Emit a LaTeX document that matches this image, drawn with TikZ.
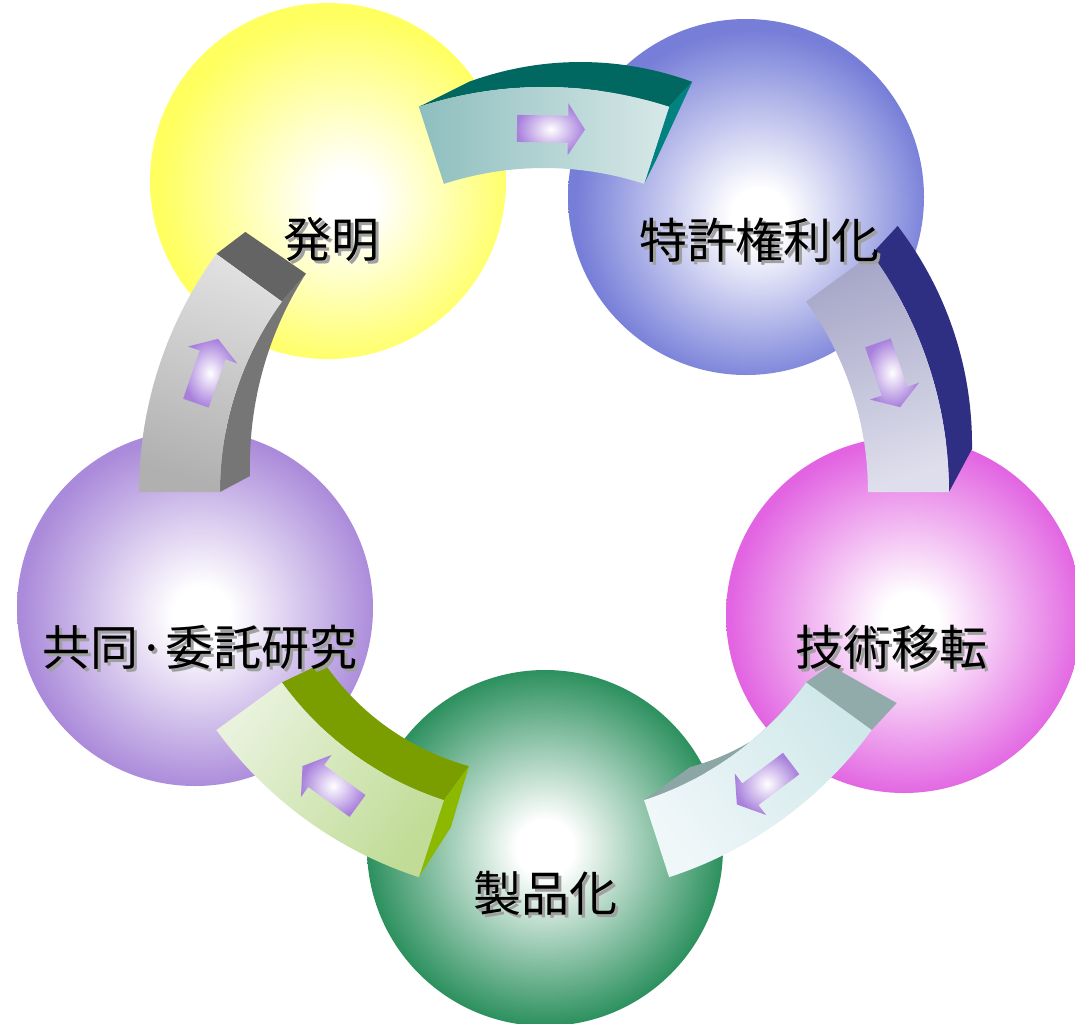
\documentclass[tikz,border=0pt]{standalone}
\usepackage{fontspec}
\newfontfamily\jp{Noto Sans CJK JP}
% sphere colours
\definecolor{cY}{RGB}{255,255,96}
\definecolor{cB}{RGB}{118,126,216}
\definecolor{cP}{RGB}{226,100,226}
\definecolor{cG}{RGB}{44,144,94}
\definecolor{cV}{RGB}{170,138,218}
% arrow colours
\definecolor{a1s}{RGB}{142,190,190}
\definecolor{a1e}{RGB}{216,232,232}
\definecolor{a1top}{RGB}{0,104,97}
\definecolor{a1end}{RGB}{0,130,128}
\definecolor{a2s}{RGB}{166,166,200}
\definecolor{a2e}{RGB}{222,222,236}
\definecolor{a2side}{RGB}{46,46,130}
\definecolor{a3s}{RGB}{208,232,234}
\definecolor{a3e}{RGB}{240,247,249}
\definecolor{a3side}{RGB}{140,166,166}
\definecolor{a3end}{RGB}{145,170,170}
\definecolor{a4s}{RGB}{192,220,150}
\definecolor{a4e}{RGB}{232,242,220}
\definecolor{a4side}{RGB}{122,158,0}
\definecolor{a4end}{RGB}{140,184,0}
\definecolor{a5s}{RGB}{176,176,176}
\definecolor{a5e}{RGB}{224,224,224}
\definecolor{a5side}{RGB}{118,118,118}
\definecolor{a5end}{RGB}{100,100,100}
\definecolor{arp}{RGB}{168,128,220}
\definecolor{shad}{RGB}{160,160,160}
\pgfdeclareradialshading{shY}{\pgfpoint{3bp}{-3bp}}{color(0bp)=(white); color(4bp)=(white); color(25bp)=(cY); color(50bp)=(cY)}
\pgfdeclareradialshading{shB}{\pgfpoint{2bp}{-3bp}}{color(0bp)=(white); color(4bp)=(white); color(25bp)=(cB); color(50bp)=(cB)}
\pgfdeclareradialshading{shP}{\pgfpoint{1bp}{-1bp}}{color(0bp)=(white); color(4bp)=(white); color(25bp)=(cP); color(50bp)=(cP)}
\pgfdeclareradialshading{shG}{\pgfpoint{0bp}{0bp}}{color(0bp)=(white); color(4bp)=(white); color(25bp)=(cG); color(50bp)=(cG)}
\pgfdeclareradialshading{shV}{\pgfpoint{1bp}{-1bp}}{color(0bp)=(white); color(4bp)=(white); color(25bp)=(cV); color(50bp)=(cV)}
\begin{document}
\begin{tikzpicture}[x=1pt,y=-1pt,
  lbl/.style={font=\jp\fontsize{48}{52}\selectfont, text=black, inner sep=0pt},
  lblshadow/.style={lbl, text=shad},
  minarrow/.style={inner color=white, outer color=arp}]
\useasboundingbox (0,0) rectangle (1075,1023);
\clip (0,0) rectangle (1075,1023);
% spheres
\shade[shading=shY] (328,181) circle[radius=178];
\shade[shading=shB] (746,197) circle[radius=178];
\shade[shading=shP] (904,615) circle[radius=178];
\shade[shading=shG] (545,848) circle[radius=178];
\shade[shading=shV] (195,608) circle[radius=178];

% ---------- arrow 1 (top) ----------
\fill[a1top] plot[domain=-108:-72,samples=40] ({544+405*cos(\x)},{492+405*sin(\x)})
  -- plot[domain=-72:-108,samples=40] ({544+405*cos(\x)+50-27*(\x+108)/36},{492+405*sin(\x)-25}) -- cycle;
\fill[a1end] ({544+405*cos(-72)},{492+405*sin(-72)}) -- ++(23,-25)
  -- ({544+324*cos(-72)+12},{492+324*sin(-72)-24}) -- ({544+324*cos(-72)},{492+324*sin(-72)}) -- cycle;
\shade[top color=a1s, bottom color=a1e, shading angle=90]
  plot[domain=-108:-72,samples=40] ({544+405*cos(\x)},{492+405*sin(\x)})
  -- plot[domain=-72:-108,samples=40] ({544+324*cos(\x)},{492+324*sin(\x)}) -- cycle;
\begin{scope}[shift={(551,129)}, rotate=-1]
\shade[minarrow] (-34,-13.5) -- (17,-13.5) -- (17,-26) -- (34,0) -- (17,26) -- (17,13.5) -- (-34,13.5) -- cycle;
\end{scope}

% ---------- arrow 2 (right) ----------
\fill[a2side] plot[domain=-36:0,samples=40] ({544+405*cos(\x)},{492+405*sin(\x)})
  -- plot[domain=0:-36,samples=40] ({544+405*cos(\x)+26-3*(\x+36)/36},{492+405*sin(\x)-28-15*(\x+36)/36}) -- cycle;
\shade[top color=a2s, bottom color=a2e, shading angle=18]
  plot[domain=-36:0,samples=40] ({544+405*cos(\x)},{492+405*sin(\x)})
  -- plot[domain=0:-36,samples=40] ({544+324*cos(\x)},{492+324*sin(\x)}) -- cycle;
\begin{scope}[shift={(889,375)}, rotate=-71]
\shade[minarrow] (-34,-13.5) -- (17,-13.5) -- (17,-26) -- (34,0) -- (17,26) -- (17,13.5) -- (-34,13.5) -- cycle;
\end{scope}

% ---------- arrow 3 (lower right) ----------
\fill[a3side] plot[domain=36:72,samples=40] ({544+324*cos(\x)},{492+324*sin(\x)})
  -- plot[domain=72:36,samples=40] ({544+324*cos(\x)+24+22*(\x-36)/36},{492+324*sin(\x)-17-16*(\x-36)/36}) -- cycle;
\fill[a3end] ({544+324*cos(36)},{492+324*sin(36)}) -- ++(24,-17)
  -- ({544+405*cos(36)+25},{492+405*sin(36)-27}) -- ({544+405*cos(36)},{492+405*sin(36)}) -- cycle;
\shade[top color=a3s, bottom color=a3e, shading angle=-54]
  plot[domain=36:72,samples=40] ({544+405*cos(\x)},{492+405*sin(\x)})
  -- plot[domain=72:36,samples=40] ({544+324*cos(\x)},{492+324*sin(\x)}) -- cycle;
\begin{scope}[shift={(764,784)}, rotate=-143]
\shade[minarrow] (-34,-13.5) -- (17,-13.5) -- (17,-26) -- (34,0) -- (17,26) -- (17,13.5) -- (-34,13.5) -- cycle;
\end{scope}

% ---------- arrow 4 (lower left) ----------
\fill[a4side] plot[domain=108:144,samples=40] ({544+324*cos(\x)},{492+324*sin(\x)})
  -- plot[domain=144:108,samples=40] ({544+324*cos(\x)+25+17*(\x-108)/36},{492+324*sin(\x)-34+14*(\x-108)/36}) -- cycle;
\fill[a4end] ({544+324*cos(108)},{492+324*sin(108)}) -- ++(25,-34)
  -- ({544+405*cos(108)+32},{492+405*sin(108)-50}) -- ({544+405*cos(108)},{492+405*sin(108)}) -- cycle;
\shade[top color=a4s, bottom color=a4e, shading angle=-126]
  plot[domain=108:144,samples=40] ({544+405*cos(\x)},{492+405*sin(\x)})
  -- plot[domain=144:108,samples=40] ({544+324*cos(\x)},{492+324*sin(\x)}) -- cycle;
\begin{scope}[shift={(330,786)}, rotate=144]
\shade[minarrow] (-34,-13.5) -- (17,-13.5) -- (17,-26) -- (34,0) -- (17,26) -- (17,13.5) -- (-34,13.5) -- cycle;
\end{scope}

% ---------- arrow 5 (left) ----------
\fill[a5side] plot[domain=180:216,samples=40] ({544+324*cos(\x)},{492+324*sin(\x)})
  -- plot[domain=216:180,samples=40] ({544+324*cos(\x)+30-6*(\x-180)/36},{492+324*sin(\x)-16-12*(\x-180)/36}) -- cycle;
\fill[a5end] ({544+405*cos(216)},{492+405*sin(216)}) -- ++(29,-22)
  -- ({544+324*cos(216)+24},{492+324*sin(216)-28}) -- ({544+324*cos(216)},{492+324*sin(216)}) -- cycle;
\shade[top color=a5s, bottom color=a5e, shading angle=-198]
  plot[domain=180:216,samples=40] ({544+405*cos(\x)},{492+405*sin(\x)})
  -- plot[domain=216:180,samples=40] ({544+324*cos(\x)},{492+324*sin(\x)}) -- cycle;
\begin{scope}[shift={(207,371)}, rotate=71]
\shade[minarrow] (-34,-13.5) -- (17,-13.5) -- (17,-26) -- (34,0) -- (17,26) -- (17,13.5) -- (-34,13.5) -- cycle;
\end{scope}

% ---------- labels ----------
\node[lblshadow] (s1) at (334,242) {発明};
\node[lbl] (t1) at (331,239) {発明};
\node[lblshadow] (s2) at (762,243) {特許権利化};
\node[lbl] (t2) at (759,240) {特許権利化};
\node[lblshadow] (s3) at (894,650) {技術移転};
\node[lbl] (t3) at (891,647) {技術移転};
\node[lblshadow] (s4) at (548,896) {製品化};
\node[lbl] (t4) at (545,893) {製品化};
\node[lblshadow] (s5) at (203,650) {共同·委託研究};
\node[lbl] (t5) at (200,647) {共同·委託研究};
\end{tikzpicture}
\end{document}
